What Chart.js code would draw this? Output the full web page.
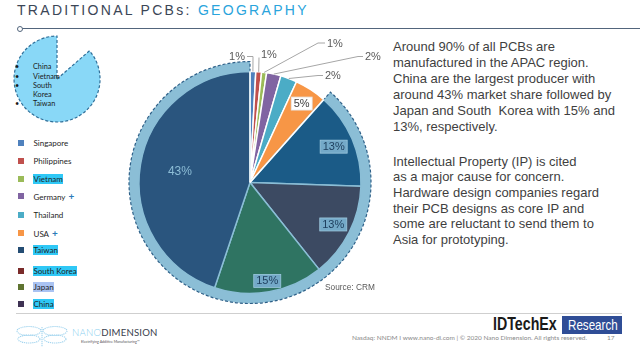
<!DOCTYPE html>
<html><head><meta charset="utf-8">
<script src="https://cdn.jsdelivr.net/npm/chart.js@4.4.1/dist/chart.umd.min.js"></script>
<style>
html,body{margin:0;padding:0;background:#fff;width:640px;height:355px;overflow:hidden;position:relative;font-family:'Liberation Sans',Arial,sans-serif}
.abs{position:absolute}
#title{left:17px;top:2px;font-size:14px;letter-spacing:2.3px;color:#3b4656;white-space:nowrap;line-height:16px}
#title span{color:#2aa4dc}
#tline{left:19px;top:27.6px;width:621px;height:1.4px;background:#52657c}
#tdot{left:16.5px;top:25.5px;width:4px;height:4px;border:1px solid #52657c;border-radius:50%;background:#fff}
.para{left:393px;font-size:13px;color:#3f3f3f;white-space:pre;}
#p1{top:38.5px;line-height:16.1px}
#p2{top:153.5px;line-height:15.7px}
#source{left:325px;top:281.5px;font-size:8.3px;color:#595959}
.lg{position:absolute;left:0;height:10px;font-family:Lato,'Open Sans',sans-serif;font-size:8px;color:#1e1e1e;line-height:10px;white-space:nowrap}
.lg i{position:absolute;left:17.5px;top:2px;width:6px;height:6px}
.lg b{position:absolute;left:33px;top:0;font-weight:normal;padding:0 0.5px}
.lg em{font-style:normal;color:#2b7bb9;font-weight:bold;font-size:10px;margin-left:3px}
#lgline{left:16px;top:312.5px;width:606px;height:1.3px;background:#cfcfcf}
#deco{left:0;top:30px}
.bl{position:absolute;font-family:Lato,'Open Sans',sans-serif;font-size:7.3px;color:#1a1a1a;line-height:9px;white-space:nowrap}
#idt{left:493px;top:313.5px;font-weight:bold;font-size:18px;color:#1a1a1a;transform:scaleX(0.79);transform-origin:0 0;white-space:nowrap}
#res{left:562px;top:316px;width:60px;height:18px;background:#2f4d96;overflow:hidden}
#res span{position:absolute;left:6px;top:0;color:#fff;font-size:14.5px;line-height:18px;transform:scaleX(0.8);transform-origin:0 0;white-space:nowrap}
#foot{left:352px;top:334px;font-family:Lato,'Open Sans',sans-serif;font-size:6.5px;color:#8a8a8a;white-space:nowrap}
#pg{left:607px;top:334px;font-family:Lato,sans-serif;font-size:6.5px;color:#8a8a8a}
#nd{left:72px;top:327px;font-family:Lato,'Open Sans',sans-serif;font-size:9.6px;letter-spacing:0.2px;color:#39404d;white-space:nowrap}
#nd span{color:#8ccff0;font-weight:300}
#tag{left:81px;top:339px;font-family:Lato,sans-serif;font-size:3.6px;color:#555;white-space:nowrap}
#chartwrap{left:110px;top:28px;width:280px;height:290px}
</style></head><body>

<div id="title" class="abs">TRADITIONAL PCBs: <span>GEOGRAPHY</span></div>
<div id="tline" class="abs"></div>
<div id="tdot" class="abs"></div>

<svg id="deco" class="abs" width="110" height="100" viewBox="0 30 110 100">
  <path d="M57,79 L89.5,50.8 A43,43 0 1 1 57,36 Z" fill="#89d8f7" stroke="#2f6e98" stroke-width="1.2" stroke-dasharray="3,2"/>
</svg>
<div class="bl" style="left:15px;top:62px">•</div>
<div class="bl" style="left:33px;top:62px">China</div>
<div class="bl" style="left:15px;top:71.5px">•</div>
<div class="bl" style="left:33px;top:71.5px">Vietnam</div>
<div class="bl" style="left:15px;top:80.5px">•</div>
<div class="bl" style="left:33px;top:80.5px">South</div>
<div class="bl" style="left:33px;top:89.5px">Korea</div>
<div class="bl" style="left:15px;top:98.5px">•</div>
<div class="bl" style="left:33px;top:98.5px">Taiwan</div>

<div id="legend"></div>
<div id="lgline" class="abs"></div>

<div id="chartwrap" class="abs"><canvas id="c" width="280" height="290"></canvas></div>

<div id="p1" class="abs para">Around 90% of all PCBs are
manufactured in the APAC region.
China are the largest producer with
around 43% market share followed by
Japan and South  Korea with 15% and
13%, respectively.</div>
<div id="p2" class="abs para">Intellectual Property (IP) is cited
as a major cause for concern.
Hardware design companies regard
their PCB designs as core IP and
some are reluctant to send them to
Asia for prototyping.</div>
<div id="source" class="abs">Source: CRM</div>

<svg class="abs" style="left:15px;top:324px" width="54" height="24" viewBox="0 0 54 24">
  <g fill="none" stroke="#9fd3ee" stroke-width="1.1" stroke-dasharray="1.2,0.8">
    <ellipse cx="14" cy="7" rx="12" ry="4.5"/>
    <ellipse cx="14" cy="15" rx="11" ry="4"/>
    <ellipse cx="40" cy="7" rx="12" ry="4.5"/>
    <ellipse cx="40" cy="15" rx="11" ry="4"/>
    <line x1="27" y1="3" x2="27" y2="23"/>
  </g>
</svg>
<div id="nd" class="abs"><span>NANO</span>DIMENSION</div>
<div id="tag" class="abs">Electrifying Additive Manufacturing™</div>
<div id="idt" class="abs">IDTechEx</div>
<div id="res" class="abs"><span>Research</span></div>
<div id="foot" class="abs">Nasdaq: NNDM I www.nano-di.com | © 2020 Nano Dimension. All rights reserved.</div>
<div id="pg" class="abs">17</div>

<script>
// ---- data ----
const categories = ['Singapore','Philippines','Vietnam','Germany','Thailand','USA','Taiwan','South Korea','Japan','China'];
const shares = [0.8, 0.8, 0.7, 2.0, 2.3, 4.5, 13.4, 13.2, 15.2, 43.0];
const ringCategories = ['Taiwan','South Korea','Japan','China'];
const plusMarked = ['Germany','USA'];

// ---- styles ----
const sliceColors = ['#4f81bd','#c0504d','#9bbb59','#8064a2','#4bacc6','#f79646','#1b5b87','#3c4a62','#2f7462','#2a557e'];
const legendColors = ['#4f81bd','#c0504d','#9bbb59','#8064a2','#4bacc6','#f79646','#244d73','#7a2b2a','#5f7431','#3e3253'];
const legendHighlight = {'Vietnam':'#2fc8f6','Taiwan':'#2fc8f6','South Korea':'#2fc8f6','Japan':'#aac3f2','China':'#2fc8f6'};
const legendRowCenters = [143.3,161,179.3,196,215,232.7,250,271,287.3,304];
const RING_FILL = '#8bbed6', RING_STROKE = '#2e6088', RING_WIDTH = 10, BIG_BORDER = '#8bbed6';
const INSIDE = {
  'USA':         {r:0.85, font:'11px "Liberation Sans"', color:'#404040', box:'#ffffff', boxStroke:'#e6e6e6'},
  'Taiwan':      {r:0.82, font:'11px "Liberation Sans"', color:'#1d3d5c', box:'#74a9c8', boxStroke:'#9cc8de'},
  'South Korea': {r:0.84, font:'11px "Liberation Sans"', color:'#1d3d5c', box:'#74a9c8', boxStroke:'#9cc8de'},
  'Japan':       {r:0.90, font:'11px "Liberation Sans"', color:'#1d3d5c', box:'#74a9c8', boxStroke:'#9cc8de'},
  'China':       {r:0.64, font:'12px "Liberation Sans"', color:'#8dbdd6'}
};
const OUTSIDE = {
  'Singapore':   {elbow:[3,-126],  text:[-5,-126],  align:'right'},
  'Philippines': {elbow:[9,-125],  text:[11,-128],  align:'left'},
  'Vietnam':     {elbow:[68,-139.5], text:[77,-139.5], align:'left'},
  'Germany':     {elbow:[108,-126], text:[115,-126], align:'left'},
  'Thailand':    {elbow:[68,-107], text:[75,-107], align:'left'}
};

// ---- legend (HTML) ----
const lg = document.getElementById('legend');
categories.forEach((c,i)=>{
  const row = document.createElement('div');
  row.className = 'lg';
  row.style.top = (legendRowCenters[i]-5)+'px';
  const sq = document.createElement('i'); sq.style.background = legendColors[i]; row.appendChild(sq);
  const t = document.createElement('b'); t.textContent = c;
  if (legendHighlight[c]) t.style.background = legendHighlight[c];
  row.appendChild(t);
  if (plusMarked.includes(c)) { const p = document.createElement('em'); p.textContent = '+'; t.appendChild(p); }
  lg.appendChild(row);
});

// ---- plugins ----
const ringIdx = ringCategories.map(c=>categories.indexOf(c));
const decoPlugin = {
  id:'deco',
  beforeDatasetsDraw(chart){
    const meta = chart.getDatasetMeta(0);
    const a = meta.data[Math.min(...ringIdx)], b = meta.data[Math.max(...ringIdx)];
    const ctx = chart.ctx; ctx.save();
    ctx.beginPath(); ctx.moveTo(a.x,a.y);
    ctx.arc(a.x,a.y,a.outerRadius+RING_WIDTH,a.startAngle,b.endAngle);
    ctx.closePath();
    ctx.fillStyle = RING_FILL; ctx.fill();
    ctx.setLineDash([3,2]); ctx.lineWidth = 1.2; ctx.strokeStyle = RING_STROKE; ctx.stroke();
    ctx.restore();
  },
  afterDatasetsDraw(chart){
    const meta = chart.getDatasetMeta(0);
    const a = meta.data[Math.min(...ringIdx)], b = meta.data[Math.max(...ringIdx)];
    const ctx = chart.ctx; ctx.save();
    ctx.strokeStyle = '#ffffff'; ctx.lineWidth = 1.5;
    [a.startAngle, b.endAngle].forEach(ang=>{
      ctx.beginPath(); ctx.moveTo(a.x,a.y);
      ctx.lineTo(a.x+Math.cos(ang)*a.outerRadius, a.y+Math.sin(ang)*a.outerRadius); ctx.stroke();
    });
    meta.data.forEach((el,i)=>{
      const name = categories[i];
      const txt = Math.round(shares[i])+'%';
      const mid = (el.startAngle+el.endAngle)/2;
      if (INSIDE[name]) {
        const s = INSIDE[name];
        const px = el.x+Math.cos(mid)*el.outerRadius*s.r, py = el.y+Math.sin(mid)*el.outerRadius*s.r;
        ctx.font = s.font;
        const w = ctx.measureText(txt).width;
        if (s.box) {
          ctx.fillStyle = s.box; ctx.fillRect(px-w/2-2.5, py-6.5, w+5, 13);
          ctx.strokeStyle = s.boxStroke; ctx.lineWidth = 0.8; ctx.strokeRect(px-w/2-2.5, py-6.5, w+5, 13);
        }
        ctx.fillStyle = s.color; ctx.textAlign='center'; ctx.textBaseline='middle';
        ctx.fillText(txt, px, py+0.5);
      } else if (OUTSIDE[name]) {
        const s = OUTSIDE[name];
        const sx = el.x+Math.cos(mid)*el.outerRadius, sy = el.y+Math.sin(mid)*el.outerRadius;
        const ex = el.x+s.elbow[0], ey = el.y+s.elbow[1];
        const tx = el.x+s.text[0], ty = el.y+s.text[1];
        ctx.strokeStyle = '#a6a6a6'; ctx.lineWidth = 1;
        ctx.beginPath(); ctx.moveTo(sx,sy); ctx.lineTo(ex,ey);
        ctx.lineTo(s.align==='left' ? tx-2 : tx+2, ey); ctx.stroke();
        ctx.font = '11px "Liberation Sans"'; ctx.fillStyle = '#595959';
        ctx.textAlign = s.align; ctx.textBaseline = 'middle';
        ctx.fillText(txt, tx, ty+0.5);
      }
    });
    ctx.restore();
  }
};

new Chart(document.getElementById('c'), {
  type:'pie',
  data:{
    labels: categories,
    datasets:[{
      data: shares,
      backgroundColor: sliceColors,
      borderColor: categories.map(c=>ringCategories.includes(c)?BIG_BORDER:'#ffffff'),
      borderWidth: 1.5,
      hoverOffset: 0
    }]
  },
  options:{
    responsive:false,
    animation:false,
    devicePixelRatio:1,
    radius:111,
    layout:{padding:{left:0,right:0,top:19,bottom:0}},
    plugins:{legend:{display:false}, tooltip:{enabled:false}}
  },
  plugins:[decoPlugin]
});
</script>
</body></html>
